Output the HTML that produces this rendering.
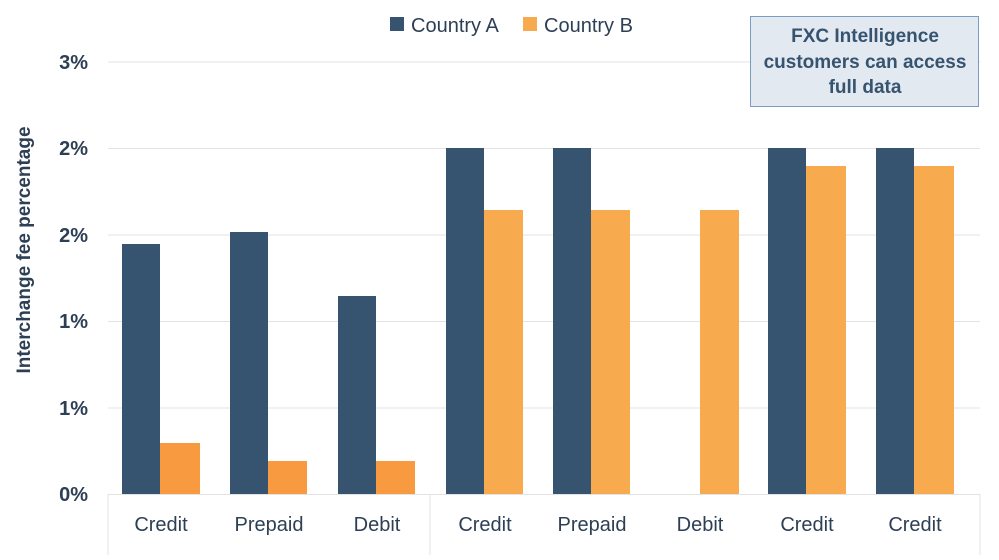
<!DOCTYPE html>
<html><head><style>
body{margin:0;background:#fff;}
svg text{font-family:"Liberation Sans",sans-serif;}
</style></head><body>
<svg width="999" height="555" xmlns="http://www.w3.org/2000/svg">
<g stroke="#e3e3e3" stroke-width="1">
<line x1="108" y1="62" x2="980" y2="62"/>
<line x1="108" y1="148.5" x2="980" y2="148.5"/>
<line x1="108" y1="235" x2="980" y2="235"/>
<line x1="108" y1="321.5" x2="980" y2="321.5"/>
<line x1="108" y1="408" x2="980" y2="408"/>
<line x1="108" y1="494.5" x2="980" y2="494.5"/>
<line x1="108" y1="494" x2="108" y2="555"/>
<line x1="430" y1="494" x2="430" y2="555"/>
<line x1="980" y1="494" x2="980" y2="555"/>
</g>
<g font-size="20" fill="#2d3f55" text-anchor="end" font-weight="bold">
<text x="88" y="69">3%</text><text x="88" y="155">2%</text><text x="88" y="242">2%</text>
<text x="88" y="328">1%</text><text x="88" y="415">1%</text><text x="88" y="501">0%</text>
</g>
<text transform="translate(30,250) rotate(-90)" font-size="19" font-weight="bold" fill="#2d3f55" text-anchor="middle">Interchange fee percentage</text>
<g fill="#36546f">
<rect x="122" y="244" width="38" height="250"/>
<rect x="230" y="232" width="38" height="262"/>
<rect x="338" y="296" width="38" height="198"/>
<rect x="446" y="148" width="38" height="346"/>
<rect x="553" y="148" width="38" height="346"/>
<rect x="768" y="148" width="38" height="346"/>
<rect x="876" y="148" width="38" height="346"/>
</g>
<g fill="#f79a40">
<rect x="160" y="443" width="40" height="51"/>
<rect x="268" y="461" width="39" height="33"/>
<rect x="376" y="461" width="39" height="33"/>
</g>
<g fill="#f8aa4e">
<rect x="484" y="210" width="39" height="284"/>
<rect x="591" y="210" width="39" height="284"/>
<rect x="700" y="210" width="39" height="284"/>
<rect x="806" y="166" width="40" height="328"/>
<rect x="914" y="166" width="40" height="328"/>
</g>
<g font-size="20" fill="#2d3f55" text-anchor="middle">
<text x="161" y="531">Credit</text><text x="269" y="531">Prepaid</text><text x="377" y="531">Debit</text>
<text x="485" y="531">Credit</text><text x="592" y="531">Prepaid</text><text x="700" y="531">Debit</text>
<text x="807" y="531">Credit</text><text x="915" y="531">Credit</text>
</g>
<rect x="390" y="17" width="14" height="14" fill="#36546f"/>
<text x="411" y="32" font-size="20" fill="#2d3f55">Country A</text>
<rect x="523" y="17" width="14" height="14" fill="#f8aa4e"/>
<text x="544" y="32" font-size="20" fill="#2d3f55">Country B</text>
<rect x="750.5" y="16.5" width="228" height="90" fill="#e3e9f0" stroke="#7a9cc0"/>
<g font-size="19" font-weight="bold" fill="#36546f" text-anchor="middle">
<text x="865" y="42">FXC Intelligence</text>
<text x="865" y="68">customers can access</text>
<text x="865" y="93">full data</text>
</g>
</svg>
</body></html>
